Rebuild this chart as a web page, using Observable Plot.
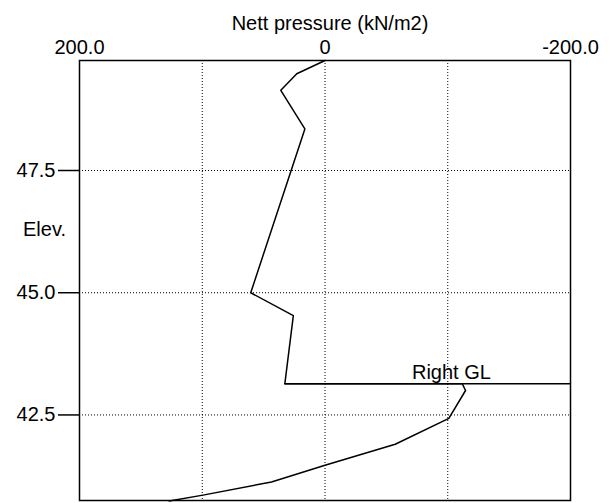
<!DOCTYPE html>
<html>
<head>
<meta charset="utf-8">
<script src="https://cdn.jsdelivr.net/npm/d3@7"></script>
<script src="https://cdn.jsdelivr.net/npm/@observablehq/plot@0.6"></script>
<style>
  html, body { margin: 0; padding: 0; background: #fff; }
  #chart svg { display: block; }
</style>
</head>
<body>
<div id="chart"></div>
<script>
// Nett pressure (kN/m2) along the wall, by elevation
const pressure  = [0, 23, 36, 16.4, 60.5, 25.8, 32.7, -111.8, -114.5, -100.9, -57.2, 0, 43.6, 99.4, 127];
const elevation = [49.75, 49.48, 49.14, 48.35, 45.0, 44.53, 43.14, 43.14, 43.0, 42.43, 41.9, 41.47, 41.13, 40.86, 40.74];

const xTicks = [200, 0, -200];
const xGrid = [100, 0, -100];
const yTicks = [42.5, 45.0, 47.5];

const groundLevel = 43.14;       // "Right GL"
const glLabel = "Right GL";
const glLabelX = -103;
const title = "Nett pressure (kN/m2)";
const yLabel = "Elev.";

const data = pressure.map((p, i) => ({p, e: elevation[i]}));
const font = "Liberation Sans, Arial, sans-serif";

const chart = Plot.plot({
  width: 612,
  height: 503,
  marginTop: 60,
  marginBottom: 3,
  marginLeft: 79,
  marginRight: 42,
  style: {fontFamily: font, fontSize: "20px", background: "#fff", color: "#000", overflow: "visible"},
  x: {domain: [200, -200], axis: null},
  y: {domain: [40.75, 49.75], axis: null},
  marks: [
    Plot.gridX(xGrid, {stroke: "#000", strokeOpacity: 1, strokeDasharray: "1,2", strokeWidth: 1}),
    Plot.gridY(yTicks, {stroke: "#000", strokeOpacity: 1, strokeDasharray: "1,2", strokeWidth: 1}),
    Plot.axisX(xTicks, {anchor: "top", tickSize: 0, tickPadding: 7, fontSize: 20,
      tickFormat: d => d === 0 ? "0" : d.toFixed(1), label: null}),
    Plot.axisY(yTicks, {anchor: "left", tickSize: 21, tickPadding: 3, fontSize: 20,
      tickFormat: d => d.toFixed(1), strokeWidth: 1.5, label: null}),
    Plot.text([title], {frameAnchor: "top", dy: -45, dx: 5, fontSize: 20}),
    Plot.text([yLabel], {frameAnchor: "left", textAnchor: "middle", dx: -35, dy: -51, fontSize: 20}),
    Plot.ruleY([groundLevel], {x1: pressure[6], x2: -200, stroke: "#000", strokeWidth: 1.5}),
    Plot.line(data, {x: "p", y: "e", stroke: "#000", strokeWidth: 1.5}),
    Plot.text([glLabel], {x: glLabelX, y: groundLevel, lineAnchor: "bottom", dy: -5, fontSize: 20}),
    Plot.frame({stroke: "#000", strokeWidth: 1.5})
  ]
});
document.getElementById("chart").appendChild(chart);
</script>
</body>
</html>
